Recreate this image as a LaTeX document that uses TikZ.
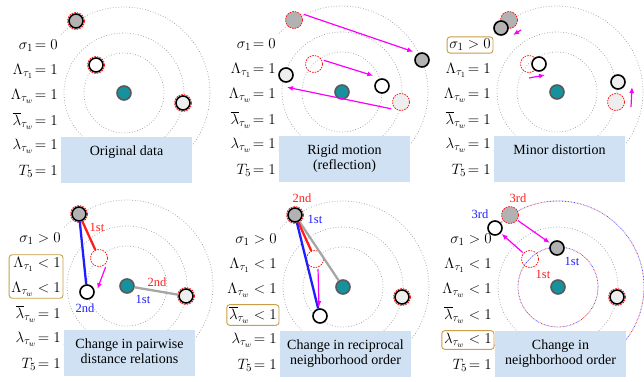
\RequirePackage{fix-cm}
\documentclass[tikz,border=0pt]{standalone}
\usepackage{fontspec}
\setmainfont{Liberation Serif}
\DeclareMathSizes{15}{15}{11}{8}
\usetikzlibrary{arrows.meta,fit}
\definecolor{hubteal}{RGB}{22,146,158}
\definecolor{ptdark}{RGB}{178,178,178}
\definecolor{ptlight}{RGB}{238,238,238}
\definecolor{capblue}{RGB}{207,225,242}
\definecolor{goldline}{RGB}{200,158,70}
\definecolor{mvpink}{RGB}{250,0,250}
\definecolor{ordred}{RGB}{255,30,30}
\definecolor{ordblue}{RGB}{30,30,255}

\begin{document}
\begin{tikzpicture}[x=1pt, y=-1pt, >={Latex[length=6pt,width=5pt]},
  ring/.style={gray!80, dotted, line width=0.7pt},
  pt/.style={circle, draw=black, line width=1.6pt, minimum size=14pt, inner sep=0pt},
  orig/.style={circle, draw=red, dash pattern=on 1.6pt off 1.1pt, line width=0.7pt, minimum size=17pt, inner sep=0pt},
  hub/.style={circle, draw=black!65, fill=hubteal, line width=1.6pt, minimum size=14pt, inner sep=0pt},
  capbox/.style={fill=capblue, minimum width=131pt, minimum height=46pt, inner sep=0pt},
  captxt/.style={anchor=north, align=center, inner xsep=0pt, inner ysep=9pt, font=\fontsize{14}{15}\selectfont},
  lbl/.style={anchor=east, inner sep=2pt, font=\fontsize{15}{17}\selectfont},
  goldbox/.style={draw=goldline, rounded corners=3pt, line width=0.9pt, inner sep=0pt},
  mv/.style={->, mvpink, line width=1.2pt, shorten <=1pt, shorten >=1pt},
  ordline/.style={line width=2.3pt},
  ord/.style={font=\fontsize{12.5}{13}\selectfont, inner sep=0pt}]

\useasboundingbox (0,0) rectangle (644,381);

% original data
\begin{scope}[shift={(124,93)}]
  \foreach \r in {40,60,86} \draw[ring] (0,0) circle (\r);
  \fill[white] (-125,-58) rectangle (-64,92);
  \node[capbox] (p1box) at (2.5,67) {};
  \node[captxt] (p1cap) at (p1box.north) {Original data};
  \node[pt, fill=ptdark] (A1) at (-48,-72) {};
  \node[pt, fill=white] (B1) at (-28,-28) {};
  \node[pt, fill=ptlight] (C1) at (59,10) {};
  \node[orig] (A1o) at (A1) {};
  \node[orig] (B1o) at (B1) {};
  \node[orig] (C1o) at (C1) {};
  \node[hub] (hub1) at (0,0) {};
  \foreach \txt [count=\k] in {\sigma_1\!= 0, \Lambda_{\tau_1}\!= 1, \Lambda_{\tau_w}\!= 1,
      \overline{\lambda}_{\tau_w}\!= 1, \lambda_{\tau_w}\!= 1, T_5\!= 1}
    \node[lbl] (p1l\k) at (-64,{-72+25*\k}) {$\txt$};
\end{scope}

% rigid motion
\begin{scope}[shift={(342,92)}]
  \foreach \r in {40,60,86} \draw[ring] (0,0) circle (\r);
  \fill[white] (-125,-58) rectangle (-64,92);
  \node[capbox] (p2box) at (2.5,67) {};
  \node[captxt] (p2cap) at (p2box.north) {Rigid motion\\(reflection)};
  \node[orig, fill=ptdark] (A2o) at (-48,-72) {};
  \node[orig] (B2o) at (-28,-28) {};
  \node[orig, fill=ptlight] (C2o) at (59,10) {};
  \node[pt, fill=ptdark] (A2) at (80,-32) {};
  \node[pt, fill=white] (B2) at (40,-6) {};
  \node[pt, fill=ptlight] (C2) at (-56,-17) {};
  \node[hub] (hub2) at (0,0) {};
  \draw[mv] ([yshift=6pt]A2o.east) -- ([yshift=8pt]A2.west);
  \draw[mv] ([yshift=4pt]B2o.east) -- ([yshift=10pt]B2.west);
  \draw[mv] ([yshift=-7pt]C2o.west) -- ([yshift=-12pt]C2.center);
  \foreach \txt [count=\k] in {\sigma_1\!= 0, \Lambda_{\tau_1}\!= 1, \Lambda_{\tau_w}\!= 1,
      \overline{\lambda}_{\tau_w}\!= 1, \lambda_{\tau_w}\!= 1, T_5\!= 1}
    \node[lbl] (p2l\k) at (-64,{-72+25*\k}) {$\txt$};
\end{scope}

% minor distortion
\begin{scope}[shift={(557,92)}]
  \foreach \r in {40,60,86} \draw[ring] (0,0) circle (\r);
  \fill[white] (-125,-58) rectangle (-64,92);
  \node[capbox] (p3box) at (2.5,67) {};
  \node[captxt] (p3cap) at (p3box.north) {Minor distortion};
  \node[orig, fill=ptdark] (A3o) at (-48,-72) {};
  \node[orig] (B3o) at (-28,-28) {};
  \node[orig, fill=ptlight] (C3o) at (59,10) {};
  \node[pt, fill=ptdark] (A3) at (-56,-64) {};
  \node[pt, fill=white] (B3) at (-18,-28) {};
  \node[pt, fill=ptlight] (C3) at (61,-10) {};
  \node[hub] (hub3) at (0,0) {};
  \draw[mv, shorten <=0pt, shorten >=0pt] ([shift={(12pt,-10pt)}]A3o.center) -- ([shift={(12pt,-7pt)}]A3.center);
  \draw[mv, shorten <=0pt, shorten >=0pt] ([yshift=-14pt]B3o.center) -- ([shift={(6pt,-11pt)}]B3.center);
  \draw[mv, shorten <=0pt, shorten >=0pt] ([shift={(15pt,-5pt)}]C3o.center) -- ([shift={(14pt,-5pt)}]C3.center);
  \foreach \txt [count=\k] in {\sigma_1 > 0, \Lambda_{\tau_1}\!= 1, \Lambda_{\tau_w}\!= 1,
      \overline{\lambda}_{\tau_w}\!= 1, \lambda_{\tau_w}\!= 1, T_5\!= 1}
    \node[lbl] (p3l\k) at (-64,{-72+25*\k}) {$\txt$};
  \node[goldbox, fit=(p3l1)] (p3gold) {};
\end{scope}

% pairwise distance relations
\begin{scope}[shift={(127,286)}]
  \foreach \r in {40,60,86} \draw[ring] (0,0) circle (\r);
  \fill[white] (-125,-58) rectangle (-64,92);
  \node[capbox] (p4box) at (2.5,67) {};
  \node[captxt] (p4cap) at (p4box.north) {Change in pairwise\\distance relations};
  \node[pt, fill=ptdark] (A4) at (-48,-72) {};
  \node[orig, fill=white] (B4o) at (-28,-28) {};
  \node[pt, fill=white] (B4) at (-40,6) {};
  \node[pt, fill=ptlight] (C4) at (59,10) {};
  \node[orig] (A4o) at (A4) {};
  \node[orig] (C4o) at (C4) {};
  \node[hub] (hub4) at (0,0) {};
  \draw[ordline, ordred] (A4) -- (B4o);
  \draw[ordline, ordblue] (A4) -- (B4);
  \draw[ordline, gray!70] (hub4) -- (C4);
  \draw[mv] ([shift={(7pt,-8pt)}]B4o.center) -- ([shift={(10pt,2pt)}]B4.center);
  \node[ord, text=ordred] (p4r1) at (-30,-59) {1st};
  \node[ord, text=ordblue] (p4b2) at (-42,22) {2nd};
  \node[ord, text=ordred] (p4r2) at (30,-4) {2nd};
  \node[ord, text=ordblue] (p4b1) at (16,13) {1st};
  \foreach \txt [count=\k] in {\sigma_1 > 0, \Lambda_{\tau_1} < 1, \Lambda_{\tau_w} < 1,
      \overline{\lambda}_{\tau_w}\!= 1, \lambda_{\tau_w}\!= 1, T_5\!= 1}
    \node[lbl] (p4l\k) at (-64,{-72+25*\k}) {$\txt$};
  \node[goldbox, fit=(p4l2)(p4l3)] (p4gold) {};
\end{scope}

% reciprocal neighborhood order
\begin{scope}[shift={(343,287)}]
  \foreach \r in {40,60,86} \draw[ring] (0,0) circle (\r);
  \fill[white] (-125,-58) rectangle (-64,92);
  \node[capbox] (p5box) at (2.5,67) {};
  \node[captxt] (p5cap) at (p5box.north) {Change in reciprocal\\neighborhood order};
  \node[pt, fill=ptdark] (A5) at (-48,-72) {};
  \node[orig, fill=white] (B5o) at (-28,-28) {};
  \node[pt, fill=white] (B5) at (-23,29) {};
  \node[pt, fill=ptlight] (C5) at (59,10) {};
  \node[orig] (A5o) at (A5) {};
  \node[orig] (C5o) at (C5) {};
  \node[hub] (hub5) at (0,0) {};
  \draw[ordline, gray!70] (A5) -- (hub5);
  \draw[ordline, ordred] (A5) -- (B5o);
  \draw[ordline, ordblue] (A5) -- (B5);
  \draw[mv] ([xshift=3pt]B5o.south) -- ([xshift=-1pt]B5.north);
  \node[ord, text=ordred] (p5r2) at (-41,-89) {2nd};
  \node[ord, text=ordblue] (p5b1) at (-28,-68) {1st};
  \foreach \txt [count=\k] in {\sigma_1 > 0, \Lambda_{\tau_1} < 1, \Lambda_{\tau_w} < 1,
      \overline{\lambda}_{\tau_w} < 1, \lambda_{\tau_w}\!= 1, T_5\!= 1}
    \node[lbl] (p5l\k) at (-64,{-72+25*\k}) {$\txt$};
  \node[goldbox, fit=(p5l4)] (p5gold) {};
\end{scope}

% neighborhood order
\begin{scope}[shift={(558,287)}]
  \draw[ring] (0,0) circle (60);
  \foreach \r in {40,86} {
    \draw[red!55, line width=0.8pt, dash pattern=on 0.8pt off 2.2pt] (0,0) circle (\r);
    \draw[blue!70, line width=0.8pt, dash pattern=on 0.8pt off 2.2pt, dash phase=1.5pt] (0,0) circle (\r);
  }
  \fill[white] (-125,-58) rectangle (-64,92);
  \node[capbox] (p6box) at (2.5,67) {};
  \node[captxt] (p6cap) at (p6box.north) {Change in\\neighborhood order};
  \node[orig, fill=ptdark] (A6o) at (-48,-72) {};
  \node[orig] (B6o) at (-28,-28) {};
  \node[pt, fill=ptdark] (A6) at (-1,-39) {};
  \node[pt, fill=white] (B6) at (-63,-59) {};
  \node[pt, fill=ptlight] (C6) at (59,10) {};
  \node[orig] (C6o) at (C6) {};
  \node[hub] (hub6) at (0,0) {};
  \draw[mv] (A6o) -- (A6);
  \draw[mv] (B6o) -- (B6);
  \node[ord, text=ordred] (p6r3) at (-40,-89) {3rd};
  \node[ord, text=ordblue] (p6b3) at (-78,-73) {3rd};
  \node[ord, text=ordblue] (p6b1) at (14,-26) {1st};
  \node[ord, text=ordred] (p6r1) at (-15,-13) {1st};
  \foreach \txt [count=\k] in {\sigma_1 > 0, \Lambda_{\tau_1} < 1, \Lambda_{\tau_w} < 1,
      \overline{\lambda}_{\tau_w} < 1, \lambda_{\tau_w} < 1, T_5\!= 1}
    \node[lbl] (p6l\k) at (-64,{-72+25*\k}) {$\txt$};
  \node[goldbox, fit=(p6l5)] (p6gold) {};
\end{scope}
\end{tikzpicture}
\end{document}
